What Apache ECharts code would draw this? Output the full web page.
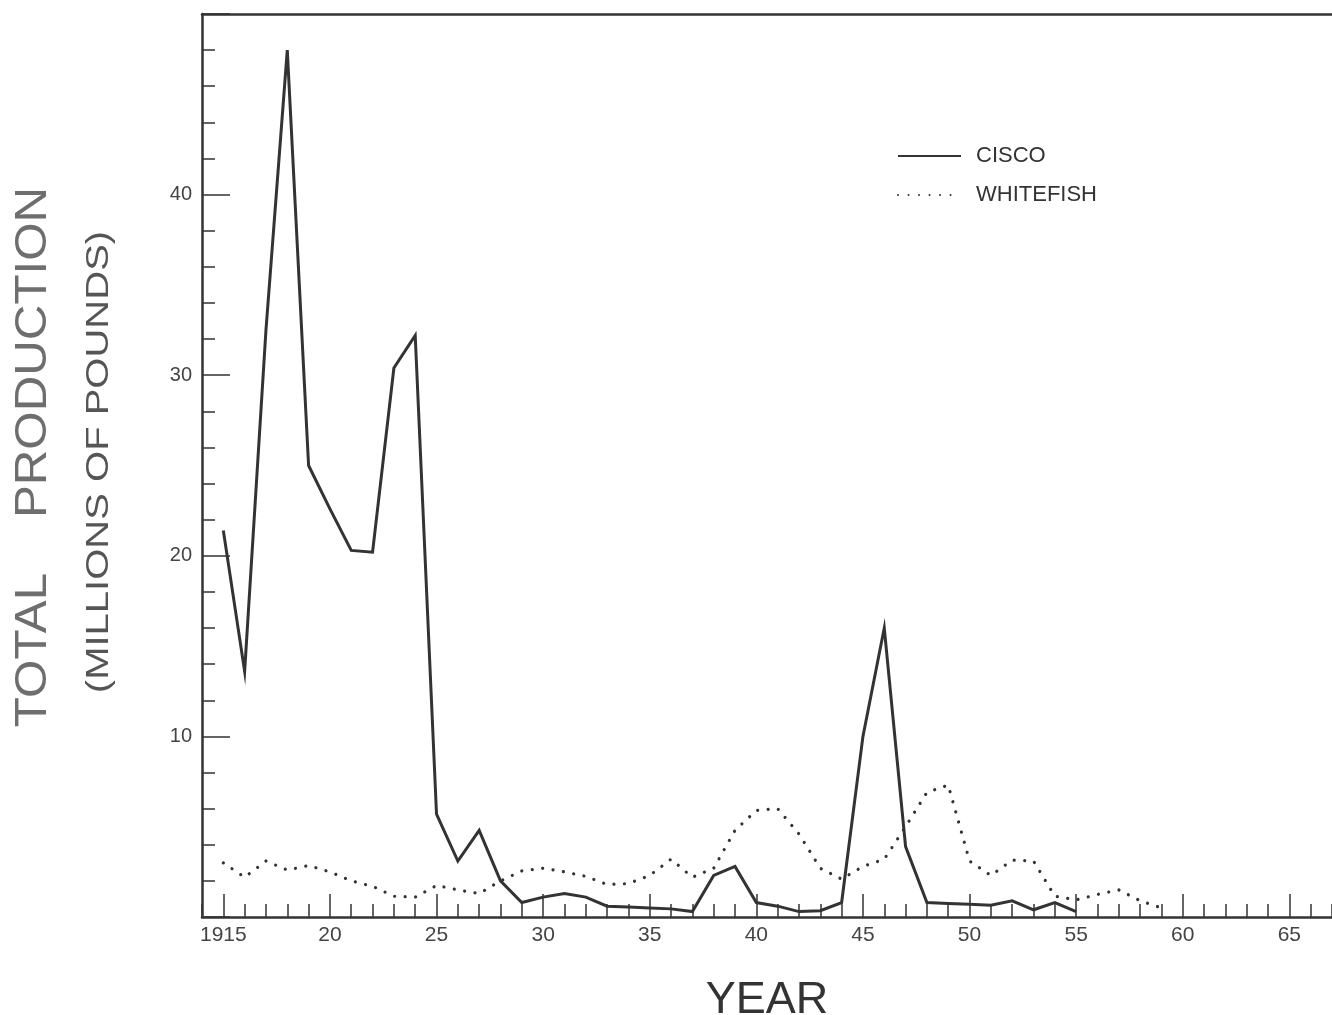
<!DOCTYPE html>
<html>
<head>
<meta charset="utf-8">
<script src="https://cdn.jsdelivr.net/npm/echarts@6/dist/echarts.min.js"></script>
<style>
html,body{margin:0;padding:0;background:#fff;}
#chart{width:1332px;height:1015px;}
</style>
</head>
<body>
<div id="chart"></div>
<script>
// Years on the x axis (category axis 1914 .. 1967)
const years = [];
for (let y = 1914; y <= 1967; y++) years.push(String(y));

// Cisco production, millions of pounds, 1915..1955
const ciscoYears = [1915,1916,1917,1918,1919,1920,1921,1922,1923,1924,1925,1926,1927,1928,1929,1930,1931,1932,1933,1934,1935,1936,1937,1938,1939,1940,1941,1942,1943,1944,1945,1946,1947,1948,1949,1950,1951,1952,1953,1954,1955];
const ciscoValues = [21.4,13.6,32.5,48.0,25.0,22.6,20.3,20.2,30.4,32.2,5.7,3.1,4.8,2.0,0.8,1.1,1.3,1.1,0.6,0.55,0.5,0.45,0.3,2.3,2.8,0.8,0.6,0.3,0.35,0.8,10.0,16.0,3.9,0.8,0.75,0.7,0.65,0.9,0.4,0.8,0.3];

// Whitefish production, millions of pounds, 1915..1959
const whitefishYears = [1915,1916,1917,1918,1919,1920,1921,1922,1923,1924,1925,1926,1927,1928,1929,1930,1931,1932,1933,1934,1935,1936,1937,1938,1939,1940,1941,1942,1943,1944,1945,1946,1947,1948,1949,1950,1951,1952,1953,1954,1955,1956,1957,1958,1959];
const whitefishValues = [3.0,2.2,3.1,2.6,2.85,2.5,2.0,1.7,1.15,1.1,1.75,1.5,1.3,2.0,2.55,2.7,2.5,2.25,1.8,1.85,2.3,3.2,2.2,2.7,4.8,5.9,6.0,4.6,2.7,2.1,2.8,3.2,5.0,6.9,7.3,3.1,2.3,3.15,3.1,1.15,0.95,1.25,1.5,0.9,0.5];

const yTickLabels = ['10','20','30','40'];

function align(ys, vs) {
  return years.map(y => {
    const i = ys.indexOf(Number(y));
    return i >= 0 ? vs[i] : null;
  });
}

const FONT = '"Liberation Sans", Arial, sans-serif';
const INK = '#333';

const chart = echarts.init(document.getElementById('chart'));
chart.setOption({
  backgroundColor: '#fff',
  animation: false,
  grid: { left: 202, right: 0, top: 14, bottom: 98, show: false, containLabel: false, outerBoundsMode: 'none' },
  legend: {
    orient: 'vertical',
    left: 892, top: 140,
    itemWidth: 63, itemHeight: 14, itemGap: 17,
    itemStyle: { color: 'transparent', borderWidth: 0, opacity: 0 },
    textStyle: { fontFamily: FONT, fontSize: 22, color: INK, padding: [0, 0, 0, 10] },
    data: ['CISCO', 'WHITEFISH']
  },
  xAxis: [
    {
      type: 'category', data: years, boundaryGap: false, position: 'bottom',
      axisLine: { lineStyle: { color: INK, width: 2.5 } },
      axisTick: { inside: true, length: 13, interval: 0, lineStyle: { color: INK, width: 1.5 } },
      axisLabel: {
        interval: (i, v) => Number(v) % 5 === 0,
        formatter: v => v === '1915' ? '1915' : v.slice(2),
        fontFamily: FONT, fontSize: 21, color: '#444', margin: 8
      },
      splitLine: { show: false },
      name: 'YEAR', nameLocation: 'middle', nameGap: 61,
      nameTextStyle: { fontFamily: FONT, fontSize: 45, color: INK }
    },
    {
      type: 'category', data: years, boundaryGap: false, position: 'bottom',
      axisLine: { show: false },
      axisTick: { inside: true, length: 23, interval: (i, v) => Number(v) % 5 === 0, lineStyle: { color: INK, width: 1.5 } },
      axisLabel: { show: false },
      splitLine: { show: false }
    },
    {
      type: 'category', data: years, boundaryGap: false, position: 'top',
      axisLine: { show: true, lineStyle: { color: INK, width: 2.5 } },
      axisTick: { show: false },
      axisLabel: { show: false },
      splitLine: { show: false }
    }
  ],
  yAxis: {
    type: 'value', min: 0, max: 50, interval: 10,
    axisLine: { show: true, lineStyle: { color: INK, width: 2.5 } },
    axisTick: { show: true, inside: true, length: 28, lineStyle: { color: INK, width: 1.5 } },
    minorTick: { show: true, splitNumber: 5, length: 13, lineStyle: { color: INK, width: 1.5 } },
    splitLine: { show: false },
    axisLabel: {
      formatter: v => yTickLabels.indexOf(String(v)) >= 0 ? String(v) : '',
      fontFamily: FONT, fontSize: 20, color: '#444', margin: 10
    }
  },
  graphic: [
    {
      type: 'text', x: 34, y: 457, rotation: Math.PI / 2, scaleX: 1.12,
      style: { text: 'TOTAL    PRODUCTION', fontFamily: FONT, fontSize: 44, fill: '#6e6e6e', align: 'center', verticalAlign: 'middle' }
    },
    {
      type: 'text', x: 99, y: 462, rotation: Math.PI / 2, scaleX: 1.25,
      style: { text: '(MILLIONS OF POUNDS)', fontFamily: FONT, fontSize: 32, fill: '#555', align: 'center', verticalAlign: 'middle' }
    }
  ],
  series: [
    {
      name: 'CISCO', type: 'line', xAxisIndex: 0, data: align(ciscoYears, ciscoValues),
      symbol: 'none', connectNulls: false,
      lineStyle: { color: INK, width: 3, join: 'miter' },
      itemStyle: { color: INK }
    },
    {
      name: 'WHITEFISH', type: 'line', xAxisIndex: 0, data: align(whitefishYears, whitefishValues),
      symbol: 'none',
      lineStyle: { color: INK, width: 3.2, type: [0.01, 10.5], cap: 'round' },
      itemStyle: { color: INK }
    }
  ]
});
</script>
</body>
</html>
